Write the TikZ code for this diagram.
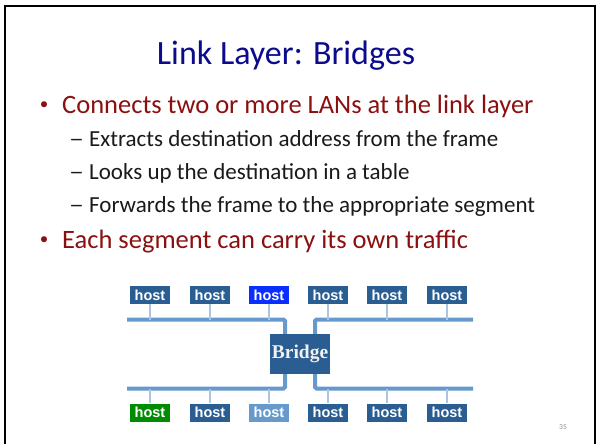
\documentclass[tikz,border=0pt]{standalone}
\usepackage{fontspec}
\setmainfont{Carlito}
\newfontfamily\hostfont{Liberation Sans}
\newfontfamily\bridgefont{Liberation Serif}
\usetikzlibrary{positioning}
\definecolor{titleblue}{HTML}{0B0B8C}
\definecolor{bulletred}{HTML}{8B1010}
\definecolor{subgray}{HTML}{1A1A1A}
\definecolor{hostblue}{HTML}{2A5D91}
\definecolor{busblue}{HTML}{6699CC}
\definecolor{tapblue}{HTML}{A9C5E3}
\definecolor{brightblue}{HTML}{0A2EFF}
\definecolor{hostgreen}{HTML}{008C00}
\definecolor{numgray}{HTML}{8C8C8C}

\begin{document}
\begin{tikzpicture}[x=1pt,y=-1pt]
\tikzstyle{txt}=[anchor=base west,inner sep=0pt]
\tikzstyle{bul}=[txt,text=bulletred,font=\fontsize{26.5}{30}\selectfont]
\tikzstyle{dot}=[anchor=base,inner sep=0pt,text=bulletred,font=\fontsize{17}{20}\selectfont]
\tikzstyle{sub}=[txt,text=subgray,font=\fontsize{23}{27}\selectfont]
\tikzstyle{host}=[fill=hostblue,text=white,minimum width=40pt,minimum height=18pt,inner sep=0pt,font=\hostfont\bfseries\fontsize{14.5}{16}\selectfont]
\tikzstyle{bus}=[busblue,line width=4pt,rounded corners=1.5pt]
\tikzstyle{tap}=[tapblue,line width=1.5pt]
    \useasboundingbox (0,0) rectangle (597,444);
    \fill[white] (0,0) rectangle (597,444);
    \draw[black,line width=2pt] (5.3,450) -- (5.3,5.8) -- (595,5.8) -- (595,450);
    % title and bullets
    \node[anchor=base,inner sep=0pt,text=titleblue,font=\fontsize{34}{40}\selectfont] (title) at (286,65) {Link Layer: Bridges};
    \node[dot] (dot1) at (44,109) {\textbullet};
    \node[bul] (b1) at (62,113) {Connects two or more LANs at the link layer};
    \node[sub] (d1) at (69,146) {\scalebox{1.3}[1]{--}};
    \node[sub] (s1) at (89,146) {Extracts destination address from the frame};
    \node[sub] (d2) at (69,179) {\scalebox{1.3}[1]{--}};
    \node[sub] (s2) at (89,179) {Looks up the destination in a table};
    \node[sub] (d3) at (69,212) {\scalebox{1.3}[1]{--}};
    \node[sub] (s3) at (89,212) {Forwards the frame to the appropriate segment};
    \node[dot] (dot2) at (44,244) {\textbullet};
    \node[bul] (b2) at (62,248) {Each segment can carry its own traffic};
    % bridge and hosts
    \node[fill=hostblue,text=white!94!black,minimum width=60pt,minimum height=40pt,inner sep=0pt,font=\bridgefont\bfseries\fontsize{19.5}{22}\selectfont] (br) at (300,354) {Bridge};
    \node[host] (t1) at (150,295) {host};
    \node[host] (t2) at (210,295) {host};
    \node[host,fill=brightblue] (t3) at (269,295) {host};
    \node[host] (t4) at (328,295) {host};
    \node[host] (t5) at (387,295) {host};
    \node[host] (t6) at (447,295) {host};
    \node[host,fill=hostgreen] (u1) at (150,412.5) {host};
    \node[host] (u2) at (210,412.5) {host};
    \node[host,fill=busblue] (u3) at (269,412.5) {host};
    \node[host] (u4) at (328,412.5) {host};
    \node[host] (u5) at (387,412.5) {host};
    \node[host] (u6) at (447,412.5) {host};
    \coordinate (tl) at (127,319.5);
    \coordinate (tr) at (473,319.5);
    \coordinate (bl) at (127,388.5);
    \coordinate (brr) at (473,388.5);
    \draw[bus] (tl) -| ([xshift=-15pt]br.north);
    \draw[bus] (tr) -| ([xshift=15pt]br.north);
    \draw[bus] (bl) -| ([xshift=-15pt]br.south);
    \draw[bus] (brr) -| ([xshift=15pt]br.south);
    \foreach \h in {t1,t2,t3,t4,t5,t6}
      \draw[tap] (\h.south) -- (\h.south |- tl);
    \foreach \h in {u1,u2,u3,u4,u5,u6}
      \draw[tap] (\h.north) -- (\h.north |- bl);
    \node[inner sep=0pt,text=numgray,font=\fontsize{7.5}{9}\selectfont] (page) at (563,427) {35};
\end{tikzpicture}
\end{document}
